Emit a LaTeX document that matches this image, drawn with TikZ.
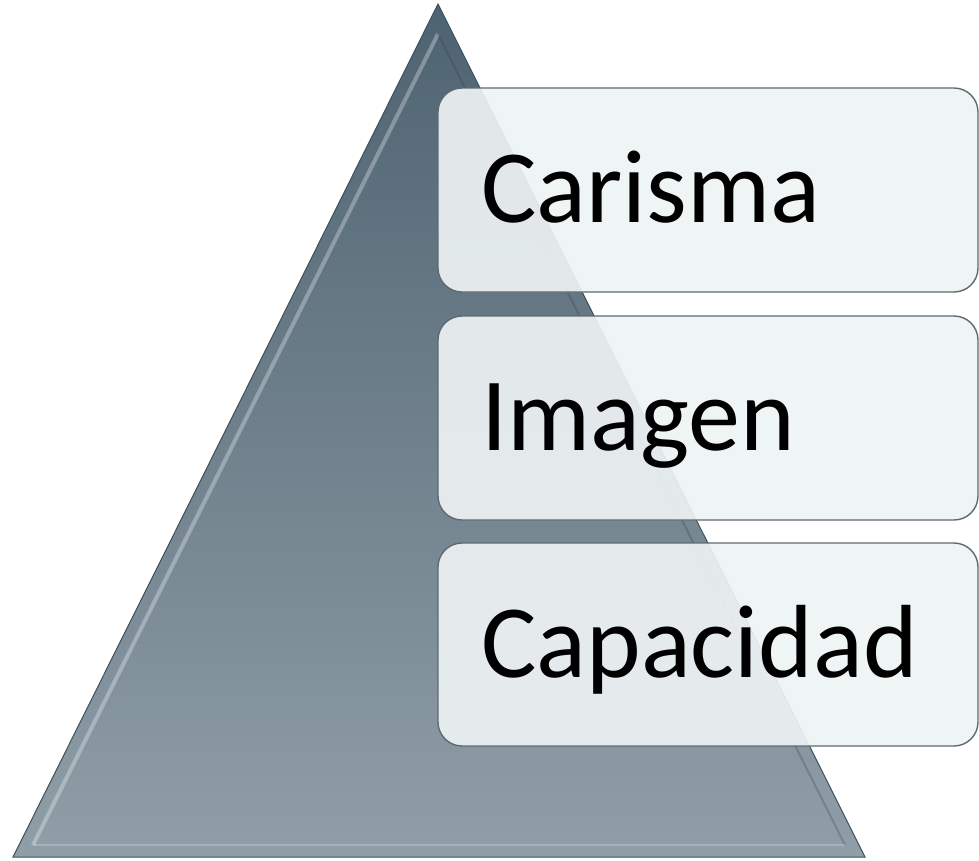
\documentclass[tikz,border=0pt]{standalone}
\usepackage{fontspec}
\setmainfont{Carlito}
\definecolor{triTop}{HTML}{4E6371}
\definecolor{triBot}{HTML}{909EA7}
\definecolor{boxFill}{HTML}{EEF3F4}
\definecolor{boxLine}{HTML}{5E6A73}
\begin{document}
\begin{tikzpicture}[x=1pt,y=-1pt,
  stepbox/.style={draw=boxLine, line width=1.4pt, fill=boxFill, fill opacity=0.92, rounded corners=24pt},
  label/.style={anchor=base west, font=\fontsize{104}{112}\selectfont, inner sep=0pt, text opacity=1}]
\useasboundingbox (0,0) rectangle (979,860);
% triangle
\coordinate (apex) at (438,4);
\coordinate (bl) at (13,857);
\coordinate (br) at (865,857);
\shade[top color=triTop, bottom color=triBot, draw=triTop!80!black, line width=1pt] (apex) -- (br) -- (bl) -- cycle;
% bevel highlights
\coordinate (iapex) at (438,34);
\coordinate (ibl) at (33,845);
\coordinate (ibr) at (845,845);
\draw[white, opacity=0.3, line width=4pt] (ibl) -- (iapex);
\draw[triTop!60!black, opacity=0.25, line width=2pt] (iapex) -- (ibr);
\draw[white, opacity=0.2, line width=2pt] (ibl) -- (ibr);
% boxes
\draw[stepbox] (438,88) rectangle (978,292);
\draw[stepbox] (438,316) rectangle (978,520);
\draw[stepbox] (438,543) rectangle (978,746);
\node[label] (t1) at (481,222) {Carisma};
\node[label] (t2) at (481,450) {Imagen};
\node[label] (t3) at (481,677) {Capacidad};
\end{tikzpicture}
\end{document}
